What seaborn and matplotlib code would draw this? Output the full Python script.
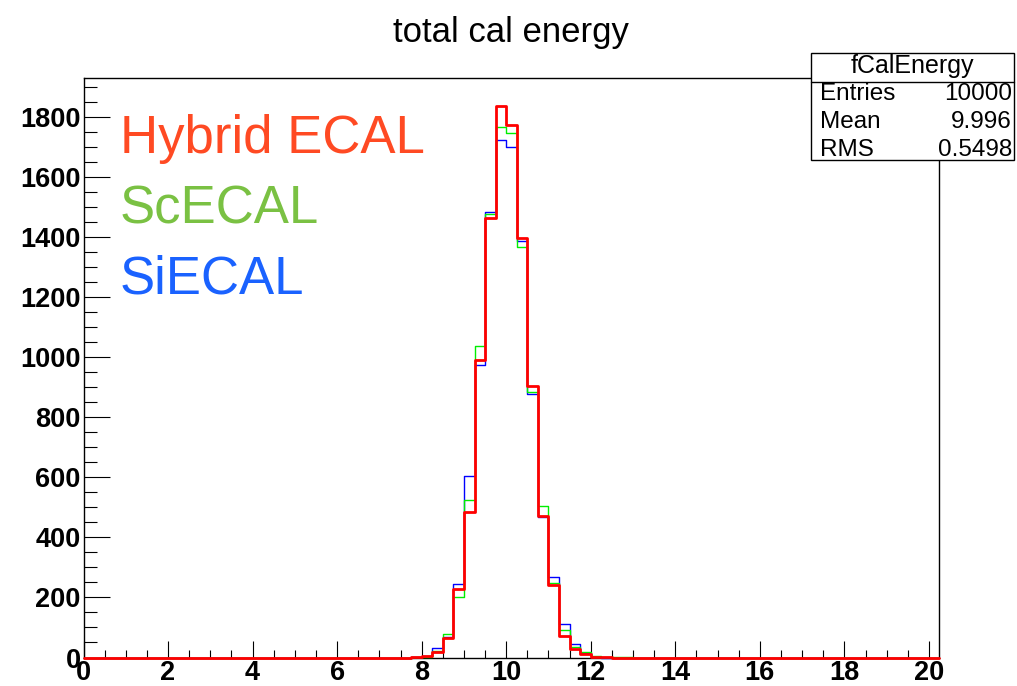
import numpy as np
import pandas as pd
import matplotlib
matplotlib.use("Agg")
import matplotlib.pyplot as plt
import seaborn as sns
from matplotlib.ticker import MultipleLocator
from matplotlib.patches import Rectangle
from matplotlib.lines import Line2D

# ---------------- data ----------------
bin_width = 0.25
x_min, x_max = 0.0, 20.25
bin_edges = np.arange(x_min, x_max + bin_width / 2, bin_width)   # 81 bins
first_nonzero_bin = 7.75

counts_siecal = [1, 5, 33, 67, 244, 605, 975, 1485, 1725, 1700, 1389, 877, 468,
                 267, 113, 46, 14, 2]
counts_scecal = [1, 3, 23, 78, 201, 524, 1039, 1479, 1767, 1747, 1369, 884, 504,
                 249, 91, 36, 19, 4, 2, 1, 1]
counts_hybrid = [1, 6, 19, 65, 228, 486, 991, 1466, 1838, 1774, 1399, 906, 472,
                 241, 72, 29, 12, 3, 1]

series_names = ["SiECAL", "ScECAL", "Hybrid ECAL"]
line_colors = ["#0000ff", "#00ee00", "#ff0000"]
label_colors = ["#1a62ff", "#7ac143", "#ff4a23"]

title_text = "total cal energy"
stats_title = "fCalEnergy"
stats_labels = ["Entries", "Mean", "RMS"]
stats_values = ["10000", "9.996", "0.5498"]

y_major_ticks = [0, 200, 400, 600, 800, 1000, 1200, 1400, 1600, 1800]
x_major_ticks = [0, 2, 4, 6, 8, 10, 12, 14, 16, 18, 20]
y_max = 1931


def full_counts(vals):
    c = np.zeros(len(bin_edges) - 1)
    i0 = int(round((first_nonzero_bin - x_min) / bin_width))
    c[i0:i0 + len(vals)] = vals
    return c


centers = (bin_edges[:-1] + bin_edges[1:]) / 2
frames = []
for name, vals in zip(series_names, [counts_siecal, counts_scecal, counts_hybrid]):
    frames.append(pd.DataFrame({"energy": centers, "count": full_counts(vals), "calo": name}))
df = pd.concat(frames, ignore_index=True)

# ---------------- style ----------------
sns.set_style("white")
plt.rcParams["font.family"] = ["Liberation Sans", "DejaVu Sans"]
plt.rcParams["text.color"] = "black"
plt.rcParams["xtick.color"] = "black"
plt.rcParams["ytick.color"] = "black"
plt.rcParams["xtick.labelcolor"] = "black"
plt.rcParams["ytick.labelcolor"] = "black"

W, H = 1017, 686
fig = plt.figure(figsize=(W / 100, H / 100), dpi=100)
left, right, top, bottom = 83.5, 939.5, 78.0, 657.5
ax = fig.add_axes([left / W, 1 - bottom / H, (right - left) / W, (bottom - top) / H])

for name, col in zip(series_names, line_colors):
    lw = 2.0 if name == "Hybrid ECAL" else 1.0
    sns.histplot(data=df[df["calo"] == name], x="energy", weights="count",
                 bins=[float(b) for b in bin_edges], element="step", fill=False,
                 color=col, linewidth=lw, ax=ax, clip_on=False, zorder=5)

ax.set_xlim(x_min, x_max)
ax.set_ylim(0, y_max)
ax.set_xlabel("")
ax.set_ylabel("")

for s in ax.spines.values():
    s.set_linewidth(1.0)
    s.set_color("black")

ax.set_xticks(x_major_ticks)
ax.set_yticks(y_major_ticks)
ax.xaxis.set_minor_locator(MultipleLocator(0.5))
ax.yaxis.set_minor_locator(MultipleLocator(50))
ax.tick_params(axis="y", which="major", direction="in", length=18.7, width=0.8,
               labelsize=19.5, pad=2, left=True, right=False, color="black",
               labelcolor="black")
ax.tick_params(axis="y", which="minor", direction="in", length=9.4, width=0.8,
               left=True, right=False, color="black")
ax.tick_params(axis="x", which="major", direction="in", length=12.2, width=0.8,
               labelsize=19.5, pad=2, bottom=True, top=False, color="black",
               labelcolor="black")
ax.tick_params(axis="x", which="minor", direction="in", length=5.8, width=0.8,
               bottom=True, top=False, color="black")
for lab in ax.get_xticklabels() + ax.get_yticklabels():
    lab.set_fontweight("bold")
    lab.set_color("black")

# Legend-like coloured labels
legend_baselines = [294, 223, 153]
for name, col, yb in zip(series_names, label_colors, legend_baselines):
    fig.text(120 / W, 1 - yb / H, name, color=col, fontsize=38, ha="left", va="baseline")

# Title
fig.text(511 / W, 1 - 42 / H, title_text, fontsize=25, ha="center", va="baseline",
         color="black")

# Stats box
bx0, bx1, by0, by1, bdiv = 811, 1014, 53.3, 160.3, 81.7
fig.patches.append(Rectangle((bx0 / W, 1 - by1 / H), (bx1 - bx0) / W, (by1 - by0) / H,
                             transform=fig.transFigure, facecolor="white",
                             edgecolor="black", linewidth=1.0, zorder=10))
fig.lines.append(Line2D([bx0 / W, bx1 / W], [1 - bdiv / H, 1 - bdiv / H],
                        transform=fig.transFigure, color="black", linewidth=1.0, zorder=11))
fig.text((bx0 + bx1) / 2 / W, 1 - 73 / H, stats_title, fontsize=18, ha="center",
         va="baseline", zorder=12, color="black")
row_y = [100.5, 128.5, 156.5]
for lab, val, ry in zip(stats_labels, stats_values, row_y):
    fig.text(820 / W, 1 - ry / H, lab, fontsize=17.5, ha="left", va="baseline",
             zorder=12, color="black")
    fig.text(1012 / W, 1 - ry / H, val, fontsize=17.5, ha="right", va="baseline",
             zorder=12, color="black")

fig.savefig("out.png", dpi=100)
